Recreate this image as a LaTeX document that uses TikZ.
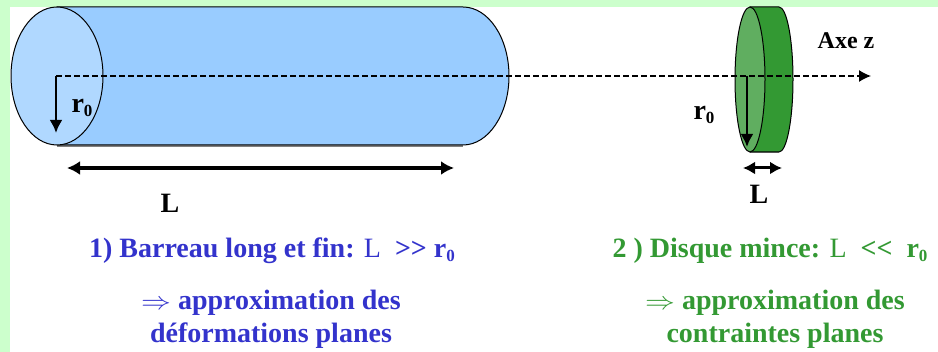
\documentclass[tikz,border=0pt]{standalone}
\usepackage{fontspec}
\setmainfont{Liberation Serif}[Ligatures=NoCommon]
\usepackage{xcolor}
\usetikzlibrary{arrows.meta}
\definecolor{pagegreen}{HTML}{CCFFCC}
\definecolor{barblue}{HTML}{99CCFF}
\definecolor{barface}{HTML}{B0D8FF}
\definecolor{diskgreen}{HTML}{339933}
\definecolor{diskface}{HTML}{60AE60}
\definecolor{textblue}{HTML}{3333CC}
\tikzset{
outline/.style={draw=black,line width=1pt},
axisline/.style={line width=1.2pt,dash pattern=on 5.5pt off 3.5pt,-{Latex[length=12pt,width=12pt]}},
radius arrow/.style={line width=2.6pt,-{Latex[length=13pt,width=13pt]}},
length arrow/.style={line width=3.6pt,{Latex[length=13pt,width=14pt]}-{Latex[length=13pt,width=14pt]}},
label/.style={font=\bfseries\fontsize{28}{28}\selectfont,inner sep=0pt},
caption/.style={font=\bfseries\fontsize{28}{33}\selectfont,inner sep=0pt,align=center},
}
\newcommand{\rzero}{r\raisebox{-.3ex}{\fontsize{17}{17}\selectfont 0}}
\newcommand{\impl}{\scalebox{1.2}[1]{$\Rightarrow$}}
\begin{document}
\begin{tikzpicture}[x=1pt,y=-1pt]
\useasboundingbox (0,0) rectangle (938,352);
% the page
\fill[pagegreen] (0,0) rectangle (938,352);
\fill[white] (10,7) rectangle (938,352);
% the bar
\fill[gray] (57,144) rectangle (463,147);
\filldraw[outline,fill=barblue] (57,7) -- (463,7) arc[start angle=90,end angle=-90,x radius=46pt,y radius=69pt] -- (57,145) -- cycle;
\filldraw[outline,fill=barface] (57,76) ellipse[x radius=46pt,y radius=69pt];
% the disk
\fill[gray] (750,150) rectangle (779,153);
\filldraw[outline,fill=diskgreen] (750,7) -- (779,7) arc[start angle=90,end angle=-90,x radius=14pt,y radius=72.5pt] -- (750,152) -- cycle;
\filldraw[outline,fill=diskface] (750,79.5) ellipse[x radius=15pt,y radius=72.5pt];
% the arrows
\coordinate (axis start) at (56,76);
\coordinate (axis end) at (871,76);
\coordinate (bar radius) at (56,133);
\coordinate (disk centre) at (747,76);
\coordinate (disk radius) at (747,147);
\coordinate (bar left) at (67,168);
\coordinate (bar right) at (454,168);
\coordinate (disk left) at (743,168);
\coordinate (disk right) at (782,168);
\draw[axisline] (axis start) -- (axis end);
\draw[radius arrow] (axis start) -- (bar radius);
\draw[radius arrow] (disk centre) -- (disk radius);
\draw[length arrow] (bar left) -- (bar right);
\draw[length arrow,line width=3pt,{Latex[length=12pt,width=13pt]}-{Latex[length=12pt,width=13pt]}] (disk left) -- (disk right);
% the labels
\node[label] (barR) at (82,108) {\rzero};
\node[label] (diskR) at (704,115) {\rzero};
\node[label] (barL) at (170,203) {L};
\node[label] (diskL) at (759,194) {L};
\node[label,font=\bfseries\fontsize{24}{24}\selectfont] (axe) at (846,41) {Axe z};
% the captions
\node[caption,textblue] (barTitle) at (272,251) {1) Barreau long et fin: {\mdseries L}\ \ >{}> \rzero};
\node[caption,textblue] (barText) at (271,319) {\impl\ approximation des\\déformations planes};
\node[caption,diskgreen] (diskTitle) at (770,251) {2 ) Disque mince: {\mdseries L}\ \ <{}<\ \ \rzero};
\node[caption,diskgreen] (diskText) at (775,319) {\impl\ approximation des\\contraintes planes};
\end{tikzpicture}
\end{document}
